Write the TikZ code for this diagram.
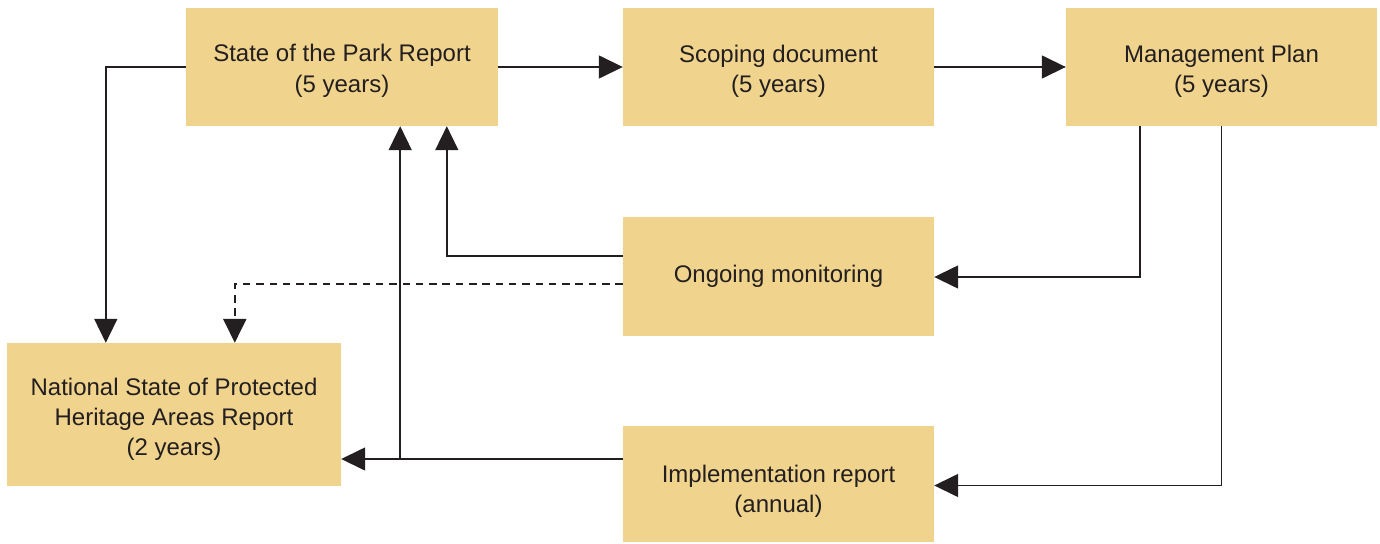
\documentclass[tikz,border=0pt]{standalone}
\usepackage{fontspec}
\setmainfont{Liberation Sans}
\usetikzlibrary{arrows.meta,calc}
\definecolor{boxfill}{RGB}{240,211,140}
\definecolor{ink}{RGB}{35,31,32}
\newcommand{\bxtext}[2]{\raisebox{#1}[\height][\depth]{\begin{tabular}{@{}c@{}}#2\end{tabular}}}
\begin{document}
\begin{tikzpicture}[x=1pt,y=-1pt,
  box/.style={rectangle,fill=boxfill,draw=none,align=center,inner sep=0pt,
    text=ink,font=\fontsize{24}{30}\selectfont},
  arr/.style={draw=ink,line width=1.5pt,-{Triangle[length=24pt,width=23pt]}},
  dsh/.style={arr,line width=2.2pt,dash pattern=on 7.5pt off 5.8pt}]
\useasboundingbox (0,0) rectangle (1380,543);
\node[box,minimum width=312pt,minimum height=118pt] (sop) at (342,67) {\bxtext{-4pt}{State of the Park Report\\(5 years)}};
\node[box,minimum width=311pt,minimum height=118pt] (scope) at (778.5,67) {\bxtext{-5pt}{Scoping document\\(5 years)}};
\node[box,minimum width=311pt,minimum height=118pt] (mp) at (1221.5,67) {\bxtext{-5pt}{Management Plan\\(5 years)}};
\node[box,minimum width=311pt,minimum height=119pt] (mon) at (778.5,276.5) {\bxtext{0pt}{Ongoing monitoring}};
\node[box,minimum width=334pt,minimum height=143pt] (nat) at (174,414.5) {\bxtext{-5pt}{National State of Protected\\Heritage Areas Report\\(2 years)}};
\node[box,minimum width=311pt,minimum height=116pt] (imp) at (778.5,484) {\bxtext{-7.5pt}{Implementation report\\(annual)}};
% connectors
\draw[arr] (sop.east) -- (scope.west);
\draw[arr] (scope.east) -- (mp.west);
\draw[arr] (sop.west) -| ([xshift=99pt]nat.north west);
\draw[arr] ([xshift=74pt]mp.south west) |- ([yshift=-0.5pt]mon.east);
\draw[arr] ([xshift=155.5pt]mp.south west) |- ([yshift=-1.5pt]imp.east);
\draw[arr] ([yshift=20.5pt]mon.west) -| ([xshift=261pt]sop.south west);
\draw[dsh] ([yshift=-7.5pt]mon.west) -| ([xshift=228pt]nat.north west);
\draw[arr] ([yshift=25pt]imp.west) -- ([yshift=-44.5pt]nat.east);
\path ([yshift=-44.5pt]nat.east) ++(59,0) coordinate (j);
\draw[arr] (j) -- (j |- sop.south);
\end{tikzpicture}
\end{document}
